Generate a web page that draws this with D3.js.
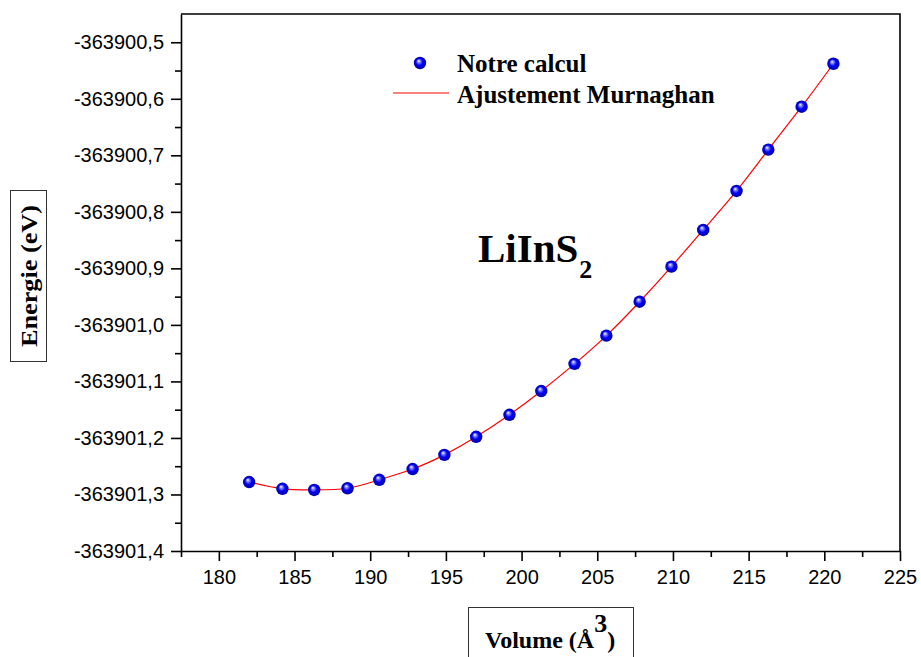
<!DOCTYPE html>
<html>
<head>
<meta charset="utf-8">
<script src="https://cdn.jsdelivr.net/npm/d3@7"></script>
<style>
  html, body { margin: 0; padding: 0; background: #fff; }
  svg { display: block; }
</style>
</head>
<body>
<script>
// Computed volumes (Å^3) and total energies (eV) for LiInS2
const volumes = [182.0, 184.2, 186.3, 188.5, 190.6, 192.8, 194.9, 197.0, 199.2, 201.3,
                 203.5, 205.6, 207.8, 209.9, 212.0, 214.2, 216.3, 218.5, 220.6];
const energies = [-363901.278, -363901.290, -363901.292, -363901.289, -363901.274,
                  -363901.255, -363901.230, -363901.198, -363901.159, -363901.117,
                  -363901.069, -363901.019, -363900.959, -363900.897, -363900.832,
                  -363900.763, -363900.690, -363900.614, -363900.538];

const xTicks = [180, 185, 190, 195, 200, 205, 210, 215, 220, 225];
const xMinorTicks = [177.5, 182.5, 187.5, 192.5, 197.5, 202.5, 207.5, 212.5, 217.5, 222.5];
const yTicks = [-363901.4, -363901.3, -363901.2, -363901.1, -363901.0,
                -363900.9, -363900.8, -363900.7, -363900.6, -363900.5];
const yTickLabels = ["-363901,4", "-363901,3", "-363901,2", "-363901,1", "-363901,0",
                     "-363900,9", "-363900,8", "-363900,7", "-363900,6", "-363900,5"];
const yMinorTicks = [-363901.35, -363901.25, -363901.15, -363901.05, -363900.95,
                     -363900.85, -363900.75, -363900.65, -363900.55];

const W = 921, H = 657;
const plot = { left: 181, right: 900, top: 14, bottom: 551 };

const svg = d3.select("body").append("svg").attr("width", W).attr("height", H);

const x = d3.scaleLinear().domain([177.5, 225]).range([plot.left, plot.right]);
const y = d3.scaleLinear().domain([-363901.4, -363900.45]).range([plot.bottom, plot.top]);

// shaded sphere marker
const defs = svg.append("defs");
const grad = defs.append("radialGradient").attr("id", "ball")
  .attr("cx", "50%").attr("cy", "50%").attr("r", "50%")
  .attr("fx", "38%").attr("fy", "32%");
grad.append("stop").attr("offset", "0%").attr("stop-color", "#ffffff");
grad.append("stop").attr("offset", "22%").attr("stop-color", "#8c8cff");
grad.append("stop").attr("offset", "55%").attr("stop-color", "#0000f5");
grad.append("stop").attr("offset", "100%").attr("stop-color", "#0000a8");

const axisColor = "#000";
const sw = 1.6;
const tickFont = "'Liberation Sans', Arial, sans-serif";
const serif = "'Liberation Serif', 'Times New Roman', serif";

// minor ticks
svg.append("g").attr("transform", `translate(0,${plot.bottom})`)
  .call(d3.axisBottom(x).tickValues(xMinorTicks).tickSize(6).tickSizeOuter(0).tickFormat(""))
  .call(g => g.select(".domain").remove());
svg.append("g").attr("transform", `translate(${plot.left},0)`)
  .call(d3.axisLeft(y).tickValues(yMinorTicks).tickSize(6).tickSizeOuter(0).tickFormat(""))
  .call(g => g.select(".domain").remove());

// major axes
const gx = svg.append("g").attr("transform", `translate(0,${plot.bottom})`)
  .call(d3.axisBottom(x).tickValues(xTicks).tickSize(10).tickSizeOuter(0).tickPadding(9)
    .tickFormat(d3.format("d")));
const gy = svg.append("g").attr("transform", `translate(${plot.left},0)`)
  .call(d3.axisLeft(y).tickValues(yTicks).tickSize(10).tickSizeOuter(0).tickPadding(7)
    .tickFormat((d, i) => yTickLabels[i]));

[gx, gy].forEach(g => {
  g.selectAll("line, path").attr("stroke", axisColor).attr("stroke-width", sw);
  g.selectAll("text").attr("font-family", tickFont).attr("font-size", 20).attr("fill", "#000");
});
svg.selectAll("g line").attr("stroke", axisColor).attr("stroke-width", sw);

// frame top & right
svg.append("path")
  .attr("d", `M${plot.left},${plot.top}H${plot.right}V${plot.bottom}`)
  .attr("fill", "none").attr("stroke", axisColor).attr("stroke-width", sw);

// fitted curve
const pts = volumes.map((v, i) => [v, energies[i]]);
svg.append("path")
  .datum(pts)
  .attr("fill", "none").attr("stroke", "#ff0000").attr("stroke-width", 1.2)
  .attr("d", d3.line().x(d => x(d[0])).y(d => y(d[1])).curve(d3.curveNatural));

// computed points
svg.append("g").selectAll("circle").data(pts).join("circle")
  .attr("cx", d => x(d[0])).attr("cy", d => y(d[1])).attr("r", 6.2)
  .attr("fill", "url(#ball)");

// legend
svg.append("circle").attr("cx", 420).attr("cy", 63).attr("r", 6.2).attr("fill", "url(#ball)");
svg.append("line").attr("x1", 393).attr("x2", 449).attr("y1", 93).attr("y2", 93)
  .attr("stroke", "#ff0000").attr("stroke-width", 1.2);
svg.append("text").attr("x", 457).attr("y", 72)
  .attr("font-family", serif).attr("font-weight", "bold").attr("font-size", 25)
  .text("Notre calcul");
svg.append("text").attr("x", 457).attr("y", 103)
  .attr("font-family", serif).attr("font-weight", "bold").attr("font-size", 25)
  .text("Ajustement Murnaghan");

// compound label
const comp = svg.append("text").attr("x", 478).attr("y", 262)
  .attr("font-family", serif).attr("font-weight", "bold").attr("font-size", 41);
comp.append("tspan").text("LiInS");
comp.append("tspan").attr("dy", 16).attr("dx", 1).attr("font-size", 26).text("2");

// y-axis title in a box
svg.append("rect").attr("x", 10.5).attr("y", 190.5).attr("width", 36).attr("height", 171)
  .attr("fill", "none").attr("stroke", "#333").attr("stroke-width", 1);
svg.append("text")
  .attr("transform", "translate(37,276) rotate(-90)")
  .attr("text-anchor", "middle")
  .attr("font-family", serif).attr("font-weight", "bold").attr("font-size", 23)
  .attr("textLength", 142).attr("lengthAdjust", "spacingAndGlyphs")
  .text("Energie (eV)");

// x-axis title in a box
svg.append("rect").attr("x", 468.5).attr("y", 607.5).attr("width", 165).attr("height", 60)
  .attr("fill", "none").attr("stroke", "#333").attr("stroke-width", 1);
const xt = svg.append("text").attr("x", 485).attr("y", 648)
  .attr("font-family", serif).attr("font-weight", "bold").attr("font-size", 24);
xt.append("tspan").text("Volume (Å");
xt.append("tspan").attr("dy", -16).attr("font-size", 26).text("3");
xt.append("tspan").attr("dy", 16).text(")");
</script>
</body>
</html>
